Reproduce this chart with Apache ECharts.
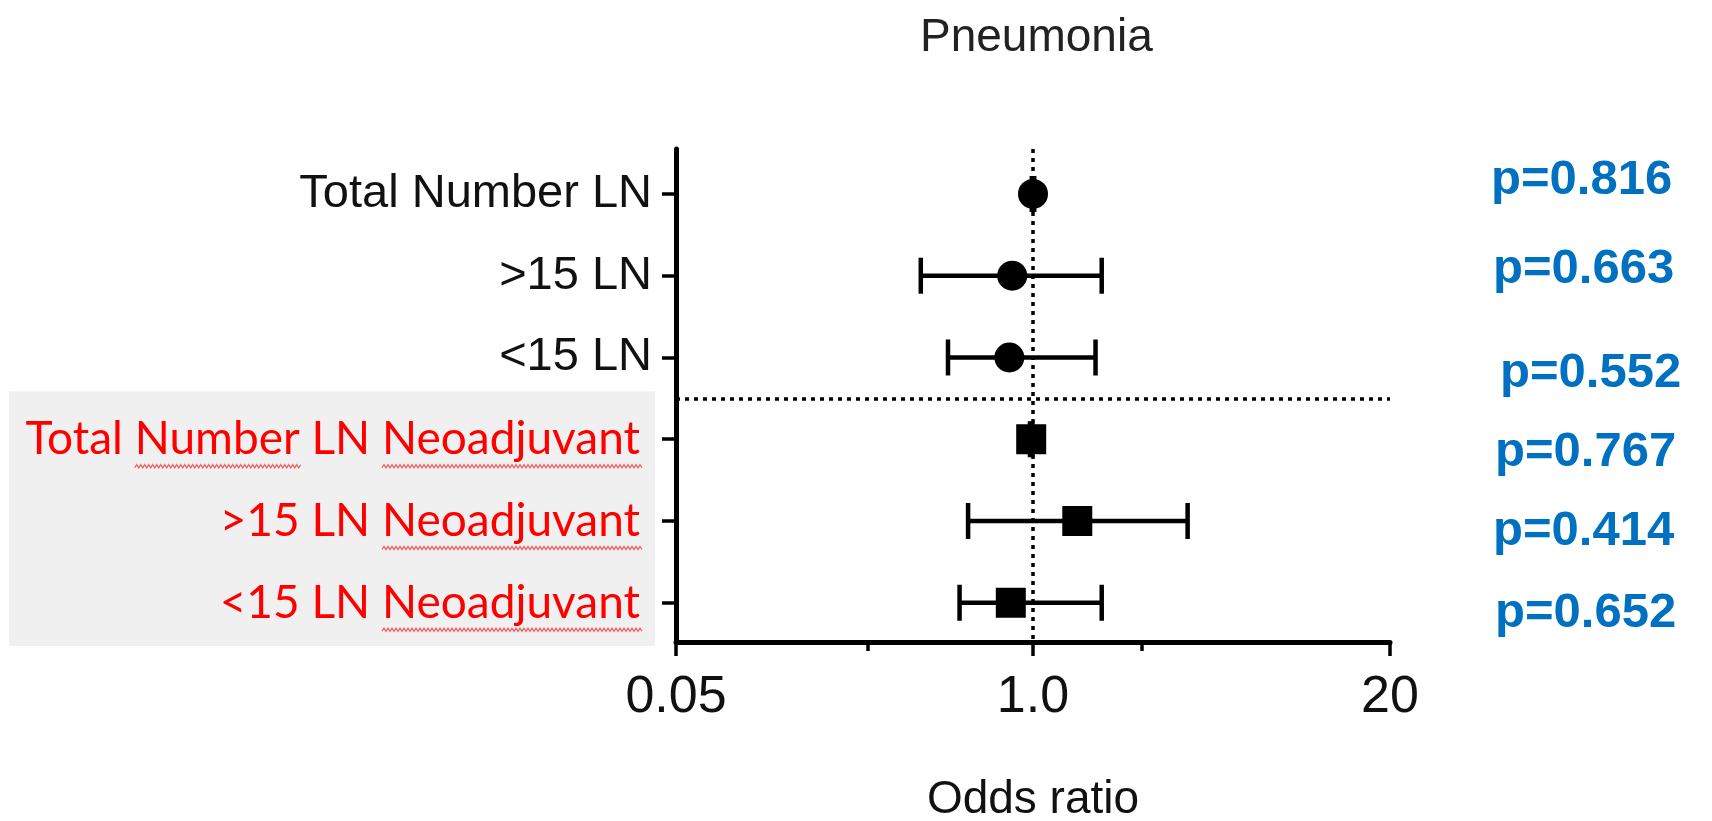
<!DOCTYPE html>
<html>
<head>
<meta charset="utf-8">
<script src="https://cdn.jsdelivr.net/npm/echarts@6/dist/echarts.min.js"></script>
<style>
  html, body { margin: 0; padding: 0; background: #fff; }
  #chart { width: 1712px; height: 821px; }
</style>
</head>
<body>
<div id="chart"></div>
<script>
  // rows from top to bottom
  const labels = ['Total Number LN', '>15 LN', '<15 LN',
    'Total Number LN Neoadjuvant', '>15 LN Neoadjuvant', '<15 LN Neoadjuvant'];
  const oddsRatio = [1.0, 0.84, 0.82, 0.985, 1.45, 0.83];
  const ciLow = [0.99, 0.39, 0.49, 0.975, 0.58, 0.54];
  const ciHigh = [1.01, 1.78, 1.69, 0.995, 3.66, 1.78];
  const pValues = ['p=0.816', 'p=0.663', 'p=0.552', 'p=0.767', 'p=0.414', 'p=0.652'];
  const xTicks = [0.05, 1, 20];
  const xMinorTicks = [0.25, 2.5];
  // words with the red spell-check squiggle
  const squiggleWords = ['Number', 'Neoadjuvant'];

  // where the p-value boxes sit (left x, centre y)
  const pPos = [[1491, 180], [1493, 269], [1500, 373], [1495, 452], [1493, 531], [1495, 613]];

  const chart = echarts.init(document.getElementById('chart'));
  const rows = labels.map((l, i) => i);
  const gridLeft = 676;
  const labelMargin = 24;
  const redPad = 12;
  const redFont = 46;
  const dotted = { color: '#000', width: 3.5, type: [4, 5] };

  var option = {
    animation: false,
    title: {
      text: 'Pneumonia',
      left: 915,
      top: 10,
      textStyle: { fontFamily: 'Liberation Sans', fontSize: 46, fontWeight: 'normal', color: '#222' }
    },
    grid: { left: gridLeft, right: 322, top: 149, bottom: 179, outerBoundsMode: 'none', containLabel: false },
    xAxis: [
      {
        type: 'log',
        logBase: 10,
        min: 0.05,
        max: 20,
        position: 'bottom',
        name: 'Odds ratio',
        nameLocation: 'middle',
        nameGap: 135,
        nameTextStyle: { fontFamily: 'Liberation Sans', fontSize: 46, color: '#111' },
        axisLine: { onZero: false, lineStyle: { color: '#000', width: 5 } },
        axisTick: { customValues: xTicks, length: 14, lineStyle: { color: '#000', width: 3.5 } },
        axisLabel: {
          customValues: xTicks,
          margin: 30,
          fontFamily: 'Liberation Sans',
          fontSize: 52,
          color: '#111',
          formatter: v => (Math.abs(v - 1) < 1e-6 ? '1.0' : String(+v.toPrecision(3)))
        },
        splitLine: { show: false }
      },
      {
        type: 'log',
        logBase: 10,
        min: 0.05,
        max: 20,
        position: 'bottom',
        axisLine: { show: false, onZero: false },
        axisTick: { customValues: xMinorTicks, length: 9, lineStyle: { color: '#000', width: 3.5 } },
        axisLabel: { show: false },
        splitLine: { show: false }
      }
    ],
    yAxis: {
      type: 'value',
      inverse: true,
      min: -0.55,
      max: 5.48,
      axisLine: { show: true, onZero: false, lineStyle: { color: '#000', width: 5 } },
      axisTick: { show: true, customValues: rows, length: 14, lineStyle: { color: '#000', width: 3.5 } },
      axisLabel: {
        customValues: rows,
        margin: labelMargin,
        formatter: v => {
          const i = Math.round(v);
          return (i < 3 ? '{k|' : '{r|') + labels[i] + '}';
        },
        rich: {
          k: { fontFamily: 'Liberation Sans', fontSize: 47, color: '#111' },
          r: { fontFamily: 'Lato', fontSize: redFont, color: '#ff0000', padding: [0, redPad, 0, 0] }
        }
      },
      splitLine: { show: false }
    },
    series: [
      {
        name: 'CI',
        type: 'custom',
        z: 2,
        data: rows.map(i => [ciLow[i], ciHigh[i], i]),
        renderItem: (params, api) => {
          const y = api.value(2);
          const lo = api.coord([api.value(0), y]);
          const hi = api.coord([api.value(1), y]);
          const h = 18;
          const st = { stroke: '#000', lineWidth: 4.5 };
          return {
            type: 'group',
            children: [
              { type: 'line', shape: { x1: lo[0], y1: lo[1], x2: hi[0], y2: hi[1] }, style: st },
              { type: 'line', shape: { x1: lo[0], y1: lo[1] - h, x2: lo[0], y2: lo[1] + h }, style: st },
              { type: 'line', shape: { x1: hi[0], y1: hi[1] - h, x2: hi[0], y2: hi[1] + h }, style: st }
            ]
          };
        },
        markLine: {
          silent: true,
          symbol: 'none',
          label: { show: false },
          lineStyle: dotted,
          data: [{ xAxis: 1 }, { yAxis: 2.5 }]
        }
      },
      {
        name: 'OR',
        type: 'scatter',
        z: 3,
        itemStyle: { color: '#000', opacity: 1 },
        data: rows.map(i => ({
          value: [oddsRatio[i], i],
          symbol: i < 3 ? 'circle' : 'rect',
          symbolSize: i < 3 ? 30 : 30
        }))
      }
    ]
  };

  chart.setOption(option);

  // grey panel behind the neoadjuvant labels, p-value text on the right
  const boxTop = chart.convertToPixel({ yAxisIndex: 0 }, 2.5) - 7;
  const boxBottom = chart.convertToPixel({ yAxisIndex: 0 }, 5.48) + 4;
  const graphics = [{
    type: 'rect',
    z: -10,
    shape: { x: 9, y: boxTop, width: 646, height: boxBottom - boxTop },
    style: { fill: '#f0f0f0' }
  }];
  pValues.forEach((p, i) => {
    graphics.push({
      type: 'text',
      x: pPos[i][0],
      y: pPos[i][1],
      style: {
        text: p,
        fontFamily: 'Liberation Sans',
        fontSize: 49,
        fontWeight: 'bold',
        fill: '#0070C0',
        verticalAlign: 'middle'
      }
    });
  });

  // spell-check squiggles under the red labels
  const ctx = document.createElement('canvas').getContext('2d');
  ctx.font = redFont + 'px Lato';
  const rightEdge = gridLeft - labelMargin - redPad;
  rows.filter(i => i >= 3).forEach(i => {
    const text = labels[i];
    const yc = chart.convertToPixel({ yAxisIndex: 0 }, i) + 27;
    const x0 = rightEdge - ctx.measureText(text).width;
    squiggleWords.forEach(w => {
      const at = text.indexOf(w);
      if (at < 0) return;
      const xs = x0 + ctx.measureText(text.slice(0, at)).width;
      const xe = xs + ctx.measureText(w).width + 3;
      const pts = [];
      for (let x = xs, k = 0; x <= xe; x += 2, k++) pts.push([x, yc + (k % 2 ? -1.5 : 1.5)]);
      graphics.push({
        type: 'polyline',
        shape: { points: pts },
        style: { stroke: '#f06060', lineWidth: 1.3, fill: null }
      });
    });
  });

  chart.setOption({ graphic: graphics });
</script>
</body>
</html>
